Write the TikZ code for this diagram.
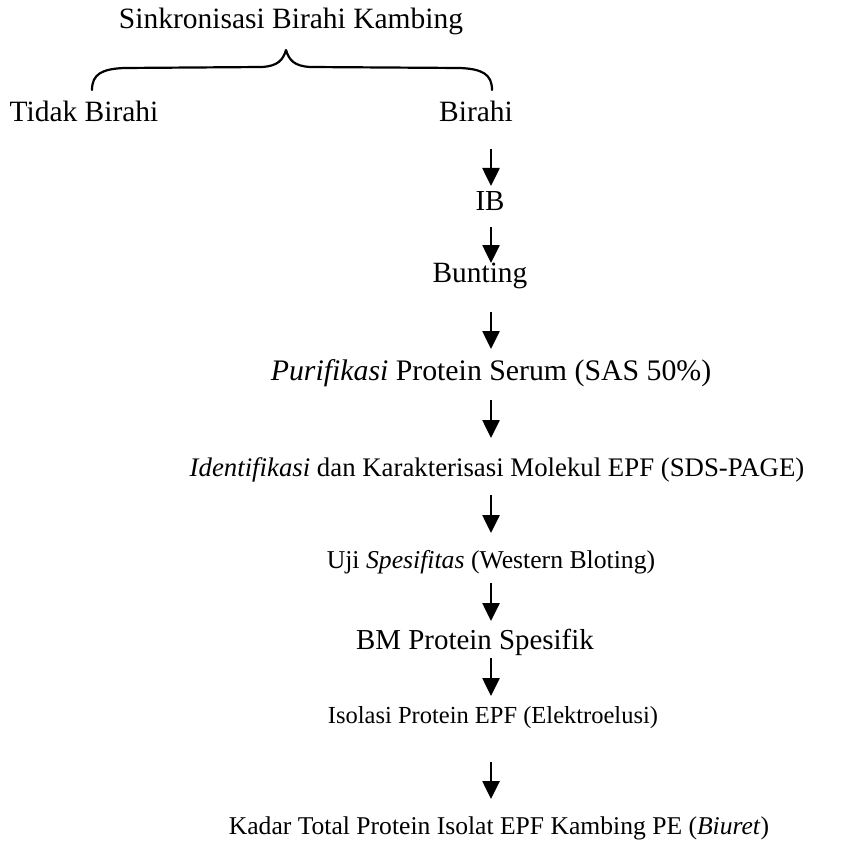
\documentclass[tikz,border=0pt]{standalone}
\usepackage{fontspec}
\setmainfont{Liberation Serif}
\usetikzlibrary{arrows.meta}
\newcommand{\fsz}[1]{\fontsize{#1}{#1}\selectfont}
\begin{document}
\begin{tikzpicture}[x=1pt,y=-1pt,
  lbl/.style={anchor=base,inner sep=0pt},
  arr/.style={line width=2.6pt,-{Triangle[length=18pt,width=17pt]},shorten >=-1pt},
  brace/.style={line width=2.2pt,line cap=round,line join=round}]
\useasboundingbox (0,0) rectangle (856,845);
\node[lbl,font=\fsz{29.5}] (top) at (291,29) {Sinkronisasi Birahi Kambing};
\node[lbl,font=\fsz{29.5}] (tidak) at (84,122) {Tidak Birahi};
\node[lbl,font=\fsz{29.5}] (birahi) at (476,122) {Birahi};
\node[lbl,font=\fsz{29}] (ib) at (490,211) {IB};
\node[lbl,font=\fsz{29.4}] (bunting) at (480,282) {Bunting};
\node[lbl,font=\fsz{29.8}] (puri) at (491,380) {\textit{Purifikasi} Protein Serum (SAS 50\%)};
\node[lbl,font=\fsz{26.8}] (iden) at (497,476) {\textit{Identifikasi} dan Karakterisasi Molekul EPF (SDS-PAGE)};
\node[lbl,font=\fsz{25.7}] (uji) at (491,568) {Uji \textit{Spesifitas} (Western Bloting)};
\node[lbl,font=\fsz{28.9}] (bm) at (475,649) {BM Protein Spesifik};
\node[lbl,font=\fsz{24.5}] (iso) at (493,723) {Isolasi Protein EPF (Elektroelusi)};
\node[lbl,font=\fsz{25.6}] (kadar) at (499,834) {Kadar Total Protein Isolat EPF Kambing PE (\textit{Biuret})};
% brace
\coordinate (bl) at (92,90);
\coordinate (br) at (492,90);
\coordinate (bt) at (286,50);
\draw[brace] (bl) .. controls (92,74) and (102,69) .. (124,68)
  -- (262,67) .. controls (278,66) and (283,60) .. (bt)
  .. controls (289,60) and (294,66) .. (310,67)
  -- (460,68) .. controls (482,69) and (492,74) .. (br);
% arrow coordinates
\foreach \n/\a/\b in {1/149/185,2/227/262,3/312/348,4/400/437,5/495/532,6/583/620,7/658/695,8/762/798}{
  \coordinate (s\n) at (491,\a);
  \coordinate (e\n) at (491,\b);
}
\draw[arr] (s1) -- (e1);
\draw[arr] (s2) -- (e2);
\draw[arr] (s3) -- (e3);
\draw[arr] (s4) -- (e4);
\draw[arr] (s5) -- (e5);
\draw[arr] (s6) -- (e6);
\draw[arr] (s7) -- (e7);
\draw[arr] (s8) -- (e8);
\end{tikzpicture}
\end{document}
